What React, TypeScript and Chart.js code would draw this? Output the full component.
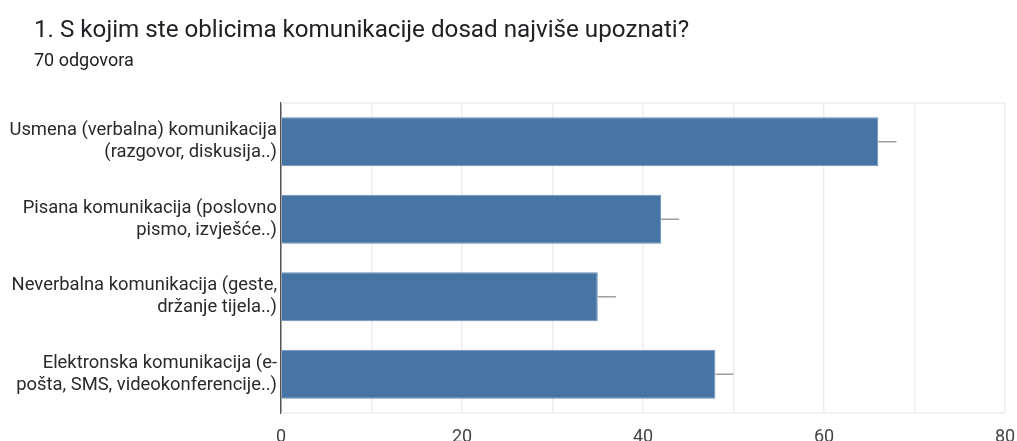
import React, { useEffect, useRef } from "react";
import { Chart, registerables } from "chart.js";

Chart.register(...registerables);

const categories: string[][] = [
  ["Usmena (verbalna) komunikacija", "(razgovor, diskusija..)"],
  ["Pisana komunikacija (poslovno", "pismo, izvješće..)"],
  ["Neverbalna komunikacija (geste,", "držanje tijela..)"],
  ["Elektronska komunikacija (e-", "pošta, SMS, videokonferencije..)"],
];
const values: number[] = [66, 42, 35, 48];
const errorHigh: number[] = [68, 44, 37, 50];
const xTickLabels: number[] = [0, 20, 40, 60, 80];

const errorBarPlugin = {
  id: "errorBars",
  afterDatasetsDraw(chart: any) {
    const meta = chart.getDatasetMeta(0);
    const xs = chart.scales.x;
    const ctx = chart.ctx;
    ctx.save();
    ctx.strokeStyle = "#9e9e9e";
    ctx.lineWidth = 1.5;
    meta.data.forEach((bar: any, i: number) => {
      const x0 = xs.getPixelForValue(values[i]);
      const x1 = xs.getPixelForValue(errorHigh[i]);
      ctx.beginPath();
      ctx.moveTo(x0, bar.y);
      ctx.lineTo(x1, bar.y);
      ctx.stroke();
    });
    ctx.restore();
  },
};

export default function App() {
  const ref = useRef<HTMLCanvasElement | null>(null);
  useEffect(() => {
    if (!ref.current) return;
    const chart = new Chart(ref.current, {
      type: "bar",
      data: {
        labels: categories,
        datasets: [
          {
            data: values,
            backgroundColor: "#4674a5",
            borderColor: "#6b90b9",
            borderWidth: 1,
            categoryPercentage: 1,
            barPercentage: 0.63,
          },
        ],
      },
      options: {
        indexAxis: "y",
        animation: false,
        responsive: false,
        maintainAspectRatio: false,
        layout: { padding: { left: 0, right: 0, top: 103, bottom: 0 } },
        plugins: {
          legend: { display: false },
          tooltip: { enabled: false },
        },
        scales: {
          x: {
            min: 0,
            max: 80,
            afterBuildTicks(axis: any) {
              axis.ticks = [0, 10, 20, 30, 40, 50, 60, 70, 80].map((v) => ({ value: v }));
            },
            afterFit(axis: any) {
              axis.height = 28;
              axis.paddingRight = 12;
              axis.paddingLeft = 0;
            },
            ticks: {
              autoSkip: false,
              maxRotation: 0,
              padding: 14,
              color: "#444",
              font: { family: "Roboto", size: 18 },
              callback: (v: any) => (xTickLabels.includes(Number(v)) ? String(v) : ""),
            },
            grid: { color: "#ededed", lineWidth: 1.5, drawTicks: false },
            border: { display: false },
          },
          y: {
            afterFit(axis: any) {
              axis.width = 281;
            },
            ticks: {
              padding: 4,
              color: "#2a2a2a",
              font: { family: "Roboto", size: 18.4, lineHeight: 1.2 },
            },
            grid: { display: false, drawTicks: false },
            border: { display: true, color: "#555", width: 1.5 },
          },
        },
      },
      plugins: [
        errorBarPlugin,
        {
          id: "topLine",
          beforeDatasetsDraw(chart: any) {
            const { ctx, chartArea } = chart;
            ctx.save();
            ctx.strokeStyle = "#ededed";
            ctx.lineWidth = 1.5;
            ctx.beginPath();
            ctx.moveTo(chartArea.left, chartArea.top);
            ctx.lineTo(chartArea.right, chartArea.top);
            ctx.moveTo(chartArea.left, chartArea.bottom);
            ctx.lineTo(chartArea.right, chartArea.bottom);
            ctx.stroke();
            ctx.restore();
          },
        },
      ],
    } as any);
    return () => chart.destroy();
  }, []);

  return (
    <div style={{ position: "fixed", left: 0, top: 0, width: 1017, height: 441, background: "#fff", overflow: "hidden" }}>
      <canvas ref={ref} width={1017} height={441} style={{ position: "absolute", left: 0, top: 0 }} />
      <div style={{ position: "absolute", left: 34, top: 13, fontFamily: "Roboto", fontSize: 24.2, color: "#202124", whiteSpace: "nowrap", lineHeight: "32px" }}>
        1. S kojim ste oblicima komunikacije dosad najviše upoznati?
      </div>
      <div style={{ position: "absolute", left: 34, top: 48, fontFamily: "Roboto", fontSize: 18, color: "#202124", whiteSpace: "nowrap", lineHeight: "24px" }}>
        70 odgovora
      </div>
    </div>
  );
}
